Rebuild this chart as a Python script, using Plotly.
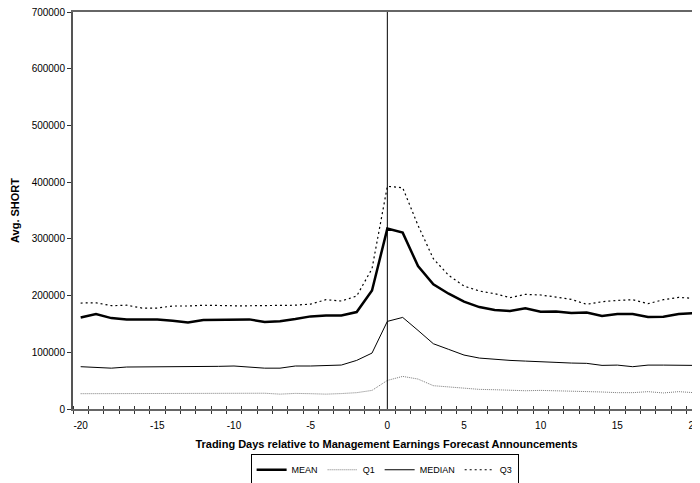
import plotly.graph_objects as go

days = list(range(-20, 21))

mean_vals = [161500, 167400, 160300, 158000, 158000, 158000, 155700, 152700, 157000, 157000,
             158000, 158000, 153300, 154700, 158600, 163300, 165000, 165000, 171000, 209000,
             318000, 311000, 252000, 219800, 203300, 189200, 179700, 174500, 172700, 177400,
             171600, 171800, 169200, 170000, 163900, 167400, 167400, 162100, 162800, 167400, 169200]

q1_vals = [27000, 27000, 27000, 27000, 27500, 27500, 27500, 27000, 27000, 27000,
           27800, 27800, 27800, 26200, 27500, 27000, 26200, 27200, 28800, 32800,
           50400, 57500, 52800, 41100, 38700, 37000, 34600, 34000, 32800, 32200,
           32800, 32200, 31700, 31700, 30000, 28800, 28800, 30600, 28300, 30600, 28800]

median_vals = [74600, 73000, 72000, 74000, 74000, 74000, 75200, 75200, 75200, 75200,
               75800, 74000, 72000, 72000, 75800, 75800, 77000, 77500, 85700, 98600,
               154500, 161500, 138600, 115100, 105100, 95100, 89800, 87500, 85700, 84500,
               82700, 82200, 81000, 80500, 76900, 77400, 74600, 77400, 77400, 77400, 76900]

q3_vals = [186800, 187300, 182200, 183000, 178000, 178000, 181600, 181600, 183000, 182000,
           182000, 182000, 182000, 182000, 183000, 185000, 192700, 190400, 199200, 247400,
           392600, 390200, 323800, 265000, 235600, 216800, 208000, 203300, 196300, 202100,
           201000, 197400, 193300, 184500, 189200, 191500, 192700, 185700, 192700, 196800, 195000]

x_tick_vals = [-20, -15, -10, -5, 0, 5, 10, 15, 20]
x_tick_text = ["-20", "-15", "-10", "-5", "0", "5", "10", "15", "20"]
y_tick_vals = [0, 100000, 200000, 300000, 400000, 500000, 600000, 700000]
y_tick_text = ["0", "100000", "200000", "300000", "400000", "500000", "600000", "700000"]

FONT = "Liberation Sans, Arial, sans-serif"

fig = go.Figure()
fig.add_trace(go.Scatter(x=days, y=mean_vals, name="MEAN", mode="lines",
                         line=dict(color="black", width=2.5)))
fig.add_trace(go.Scatter(x=days, y=q1_vals, name="Q1", mode="lines",
                         line=dict(color="#7a7a7a", width=1, dash="1px,1px")))
fig.add_trace(go.Scatter(x=days, y=median_vals, name="MEDIAN", mode="lines",
                         line=dict(color="black", width=1)))
fig.add_trace(go.Scatter(x=days, y=q3_vals, name="Q3", mode="lines",
                         line=dict(color="black", width=1.2, dash="2px,3px")))
# invisible trace to carry the inside half of the crossing ticks
fig.add_trace(go.Scatter(x=[days[0], days[-1]], y=[0, 0], xaxis="x2", mode="lines",
                         line=dict(width=0), showlegend=False, hoverinfo="skip"))

fig.add_shape(type="line", xref="x", yref="paper", x0=0, x1=0, y0=0, y1=1,
              line=dict(color="black", width=1))

xr = [-20.5, 20.39]
# page body has an 8px default margin, so the figure is sized/margined to compensate
fig.update_layout(
    width=692, height=475,
    margin=dict(l=65, r=0, t=4, b=74, autoexpand=False),
    paper_bgcolor="white", plot_bgcolor="white",
    font=dict(family=FONT, size=10, color="black"),
    showlegend=True,
    legend=dict(orientation="h", x=0.497, xanchor="center", y=-0.114, yanchor="top",
                bordercolor="black", borderwidth=1, font=dict(size=9),
                itemwidth=30, tracegroupgap=0),
    xaxis=dict(range=xr, tickmode="array", tickvals=x_tick_vals, ticktext=x_tick_text,
               ticks="", showline=True, linecolor="#666666", linewidth=1.5,
               mirror=True, showgrid=False, zeroline=False, automargin=False,
               ticklabelstandoff=6, ticklabeloverflow="allow",
               minor=dict(ticks="outside", tickmode="linear", tick0=0.5, dtick=1,
                          ticklen=3, tickcolor="#333333", tickwidth=1),
               title=dict(text="<b>Trading Days relative to Management Earnings Forecast Announcements</b>",
                          font=dict(size=11), standoff=11)),
    xaxis2=dict(range=xr, overlaying="x", anchor="y", side="bottom",
                showticklabels=False, ticks="", showline=False, showgrid=False, zeroline=False,
                tickmode="array", tickvals=[], automargin=False,
                minor=dict(ticks="inside", tickmode="linear", tick0=0.5, dtick=1,
                           ticklen=3, tickcolor="#333333", tickwidth=1)),
    yaxis=dict(range=[0, 700000], tickmode="array", tickvals=y_tick_vals, ticktext=y_tick_text,
               ticks="outside", ticklen=4, tickcolor="#333333",
               showline=True, linecolor="#555555", linewidth=2,
               showgrid=False, zeroline=False, automargin=False,
               ticklabeloverflow="allow",
               title=dict(text="<b>Avg. SHORT</b>", font=dict(size=11), standoff=10)),
)

fig.write_html("out.html")
